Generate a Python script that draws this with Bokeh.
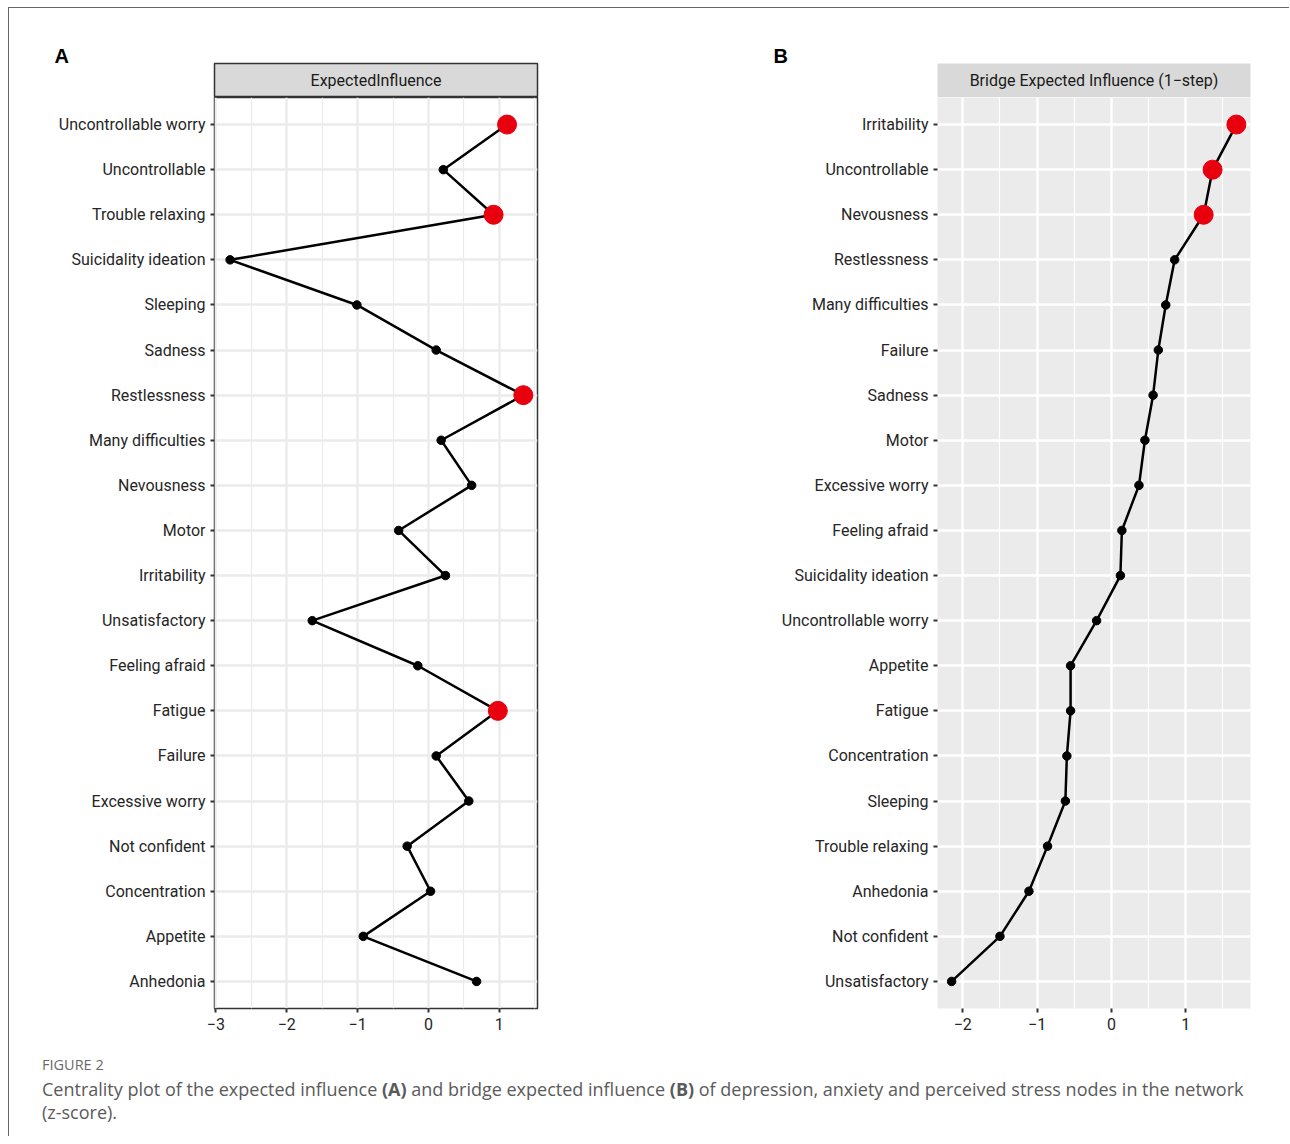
from bokeh.plotting import figure
from bokeh.layouts import column, row
from bokeh.models import Range1d, FactorRange, FixedTicker, Div, ColumnDataSource
from bokeh.core.properties import value
from bokeh.embed import file_html
from bokeh.resources import INLINE

# ---------------- data ----------------
nodes_a = ["Uncontrollable worry", "Uncontrollable", "Trouble relaxing", "Suicidality ideation",
           "Sleeping", "Sadness", "Restlessness", "Many difficulties", "Nevousness", "Motor",
           "Irritability", "Unsatisfactory", "Feeling afraid", "Fatigue", "Failure",
           "Excessive worry", "Not confident", "Concentration", "Appetite", "Anhedonia"]
ei_a = [1.11, 0.21, 0.92, -2.80, -1.01, 0.11, 1.34, 0.18, 0.61, -0.42,
        0.24, -1.64, -0.15, 0.98, 0.11, 0.57, -0.30, 0.03, -0.92, 0.68]
highlight_a = ["Uncontrollable worry", "Trouble relaxing", "Restlessness", "Fatigue"]

nodes_b = ["Irritability", "Uncontrollable", "Nevousness", "Restlessness", "Many difficulties",
           "Failure", "Sadness", "Motor", "Excessive worry", "Feeling afraid",
           "Suicidality ideation", "Uncontrollable worry", "Appetite", "Fatigue", "Concentration",
           "Sleeping", "Trouble relaxing", "Anhedonia", "Not confident", "Unsatisfactory"]
bei_b = [1.68, 1.36, 1.24, 0.85, 0.73, 0.63, 0.56, 0.45, 0.37, 0.14,
         0.12, -0.20, -0.55, -0.55, -0.60, -0.62, -0.86, -1.11, -1.50, -2.15]
highlight_b = ["Irritability", "Uncontrollable", "Nevousness"]

xticks_a = [-3, -2, -1, 0, 1]
xminor_a = [-2.5, -1.5, -0.5, 0.5, 1.5]
xlabels_a = ["\u22123", "\u22122", "\u22121", "0", "1"]
xticks_b = [-2, -1, 0, 1]
xminor_b = [-1.5, -0.5, 0.5, 1.5]
xlabels_b = ["\u22122", "\u22121", "0", "1"]

strip_a = "ExpectedInfluence"
strip_b = "Bridge Expected Influence (1\u2212step)"
letter_a = "A"
letter_b = "B"
fig_label = "FIGURE 2"
caption = ("Centrality plot of the expected influence <b>(A)</b> and bridge expected influence "
           "<b>(B)</b> of depression, anxiety and perceived stress nodes in the network<br>(z-score).")

RED = "#E8000F"
FONT = "Roboto"


def make_strip(xr, txt, letter, w, bl, br, bordered, letter_offset):
    s = figure(width=w, height=89, x_range=xr, y_range=Range1d(0, 1),
               x_axis_type=None, y_axis_type=None, toolbar_location=None,
               output_backend="svg", min_border_left=bl, min_border_right=br,
               min_border_top=55, min_border_bottom=0)
    s.grid.visible = False
    s.background_fill_color = "#D9D9D9"
    s.border_fill_color = "white"
    if bordered:
        s.outline_line_color = "#333333"
        s.outline_line_width = 1.5
    else:
        s.outline_line_color = None
    mid = (xr.start + xr.end) / 2
    s.text(x=[mid], y=[0.5], text=[txt], text_font=value(FONT), text_font_size="16px",
           text_color="#1A1A1A", text_align="center", text_baseline="middle")
    s.title.text = letter
    s.title.text_font = "Liberation Sans"
    s.title.text_font_style = "bold"
    s.title.text_font_size = "20px"
    s.title.text_color = "black"
    s.title.align = "left"
    s.title.offset = letter_offset
    s.title.standoff = -6
    return s


def make_panel(nodes, vals, highlight, xr, ticks, minors, labels, w, bl, br, theme_gray):
    yr = FactorRange(factors=list(reversed(nodes)), range_padding=0.1,
                     range_padding_units="absolute")
    p = figure(width=w, height=943, x_range=xr, y_range=yr, toolbar_location=None,
               output_backend="svg", min_border_left=bl, min_border_right=br,
               min_border_top=0, min_border_bottom=32)
    p.border_fill_color = "white"
    if theme_gray:
        p.background_fill_color = "#EBEBEB"
        p.outline_line_color = None
        gcol = "white"
    else:
        p.background_fill_color = "white"
        p.outline_line_color = "#333333"
        p.outline_line_width = 1.5
        gcol = "#EBEBEB"

    t = FixedTicker(ticks=ticks, minor_ticks=minors)
    p.xaxis[0].ticker = t
    p.xgrid[0].ticker = t
    p.xaxis.major_label_overrides = {k: v for k, v in zip(ticks, labels)}
    p.xgrid.grid_line_color = gcol
    p.xgrid.grid_line_width = 2.4
    p.xgrid.minor_grid_line_color = gcol
    p.xgrid.minor_grid_line_width = 1.2
    p.ygrid.grid_line_color = gcol
    p.ygrid.grid_line_width = 2.4

    for ax in (p.xaxis[0], p.yaxis[0]):
        ax.axis_line_color = None
        ax.major_tick_line_color = "#333333"
        ax.major_tick_line_width = 2
        ax.major_tick_in = 0
        ax.major_tick_out = 4
        ax.minor_tick_line_color = None
        ax.major_label_text_font = FONT
        ax.major_label_text_font_size = "16px"
        ax.major_label_text_color = "#262626"
        ax.major_label_standoff = 5

    src = ColumnDataSource(dict(x=vals, y=nodes))
    p.line(x="x", y="y", source=src, line_color="black", line_width=2.5)
    nx = [v for n, v in zip(nodes, vals) if n not in highlight]
    ny = [n for n in nodes if n not in highlight]
    hx = [v for n, v in zip(nodes, vals) if n in highlight]
    hy = [n for n in nodes if n in highlight]
    p.scatter(x=nx, y=ny, size=8.5, fill_color="black", line_color="black")
    p.scatter(x=hx, y=hy, size=19, fill_color=RED, line_color=RED)
    return p


xr_a = Range1d(-3.02, 1.54)
xr_b = Range1d(-2.34, 1.87)

WA, BLA, BRA = 692, 205, 164
WB, BLB, BRB = 582, 236, 33

sA = make_strip(xr_a, strip_a, letter_a, WA, BLA, BRA, True, -160)
pA = make_panel(nodes_a, ei_a, highlight_a, xr_a, xticks_a, xminor_a, xlabels_a, WA, BLA, BRA, False)
sB = make_strip(xr_b, strip_b, letter_b, WB, BLB, BRB, False, -164)
pB = make_panel(nodes_b, bei_b, highlight_b, xr_b, xticks_b, xminor_b, xlabels_b, WB, BLB, BRB, True)

cap = Div(text=(
    '<div style="padding:11px 0 0 28px;">'
    '<div style="font-family:\'Open Sans\';color:#6a6a6a;font-size:14.5px;line-height:18px;">'
    + fig_label + '</div>'
    '<div style="font-family:\'Open Sans\';color:#5a5a5a;font-size:18px;line-height:23px;margin-top:4px;white-space:nowrap;">'
    + caption + '</div></div>'), width=1270, height=86)

layout = column(row(column(sA, pA), column(sB, pB)), cap,
                styles={"border-left": "1px solid #666", "border-top": "1px solid #666",
                        "margin-left": "8px", "margin-top": "7px"})

open("out.html", "w").write(file_html(layout, INLINE))
